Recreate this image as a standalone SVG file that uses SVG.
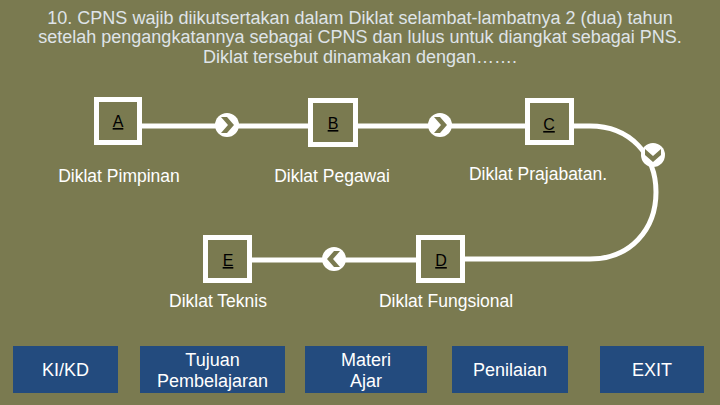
<svg xmlns="http://www.w3.org/2000/svg" width="720" height="405" viewBox="0 0 720 405">
<defs>
<style>
.title{font-family:"Liberation Sans",Arial,sans-serif;font-size:18px;fill:#dfe4e8;text-anchor:middle}
.lbl{font-family:"Liberation Sans",Arial,sans-serif;font-size:17.5px;fill:#ffffff;text-anchor:middle}
.box{fill:none;stroke:#ffffff;stroke-width:5}
.let{font-family:"Liberation Sans",Arial,sans-serif;font-size:16px;fill:#000000;text-anchor:middle;text-decoration:underline}
.btn{fill:#234b7e}
.btxt{font-family:"Liberation Sans",Arial,sans-serif;font-size:18px;fill:#ffffff;text-anchor:middle}
.conn{fill:none;stroke:#ffffff;stroke-width:5}
</style>
<g id="chev">
<circle r="12" fill="#ffffff"/>
<polygon points="-6,-8 0,-8 7,0 0,8 -6,8 1,0" fill="#7a7a50"/>
</g>
</defs>
<rect width="720" height="405" fill="#7a7a50"/>
<g id="title">
<text class="title" x="360" y="24">10. CPNS wajib diikutsertakan dalam Diklat selambat-lambatnya 2 (dua) tahun</text>
<text class="title" x="360" y="43">setelah pengangkatannya sebagai CPNS dan lulus untuk diangkat sebagai PNS.</text>
<text class="title" x="360" y="63">Diklat tersebut dinamakan dengan…….</text>
</g>
<g id="connectors">
<path class="conn" d="M142,126 L308,126 M358,126 L525,126 M574,126 L590,126 C630,126 656,155 656,192 C656,230 630,259 590,259 L465,259 M416,260 L252,260"/>
<use href="#chev" x="227" y="125"/>
<use href="#chev" x="440" y="125"/>
<use href="#chev" transform="translate(653,155) rotate(90)"/>
<use href="#chev" transform="translate(334,259) rotate(180)"/>
</g>
<g id="nodeA"><rect class="box" x="96.5" y="99.5" width="43" height="43"/><text class="let" x="118" y="127">A</text></g>
<g id="nodeB"><rect class="box" x="310.5" y="100.5" width="45" height="44"/><text class="let" x="333" y="129">B</text></g>
<g id="nodeC"><rect class="box" x="527.5" y="100.5" width="44" height="42"/><text class="let" x="549" y="130">C</text></g>
<g id="nodeD"><rect class="box" x="418.5" y="237.5" width="44" height="43"/><text class="let" x="441" y="266">D</text></g>
<g id="nodeE"><rect class="box" x="205.5" y="237.5" width="44" height="43"/><text class="let" x="228" y="266">E</text></g>
<g id="labels">
<text class="lbl" x="119" y="182">Diklat Pimpinan</text>
<text class="lbl" x="332" y="182">Diklat Pegawai</text>
<text class="lbl" x="538" y="180">Diklat Prajabatan.</text>
<text class="lbl" x="218" y="307">Diklat Teknis</text>
<text class="lbl" x="446" y="307">Diklat Fungsional</text>
</g>
<g id="btnKIKD"><rect class="btn" x="13" y="346" width="105" height="47"/><text class="btxt" x="65.5" y="376">KI/KD</text></g>
<g id="btnTujuan"><rect class="btn" x="140" y="346" width="145" height="47"/><text class="btxt" x="212.5" y="366">Tujuan</text><text class="btxt" x="212.5" y="387">Pembelajaran</text></g>
<g id="btnMateri"><rect class="btn" x="305" y="346" width="122" height="47"/><text class="btxt" x="366" y="366">Materi</text><text class="btxt" x="366" y="387">Ajar</text></g>
<g id="btnPenilaian"><rect class="btn" x="452" y="346" width="116" height="47"/><text class="btxt" x="510" y="376">Penilaian</text></g>
<g id="btnExit"><rect class="btn" x="600" y="346" width="104" height="47"/><text class="btxt" x="652" y="376">EXIT</text></g>
</svg>
